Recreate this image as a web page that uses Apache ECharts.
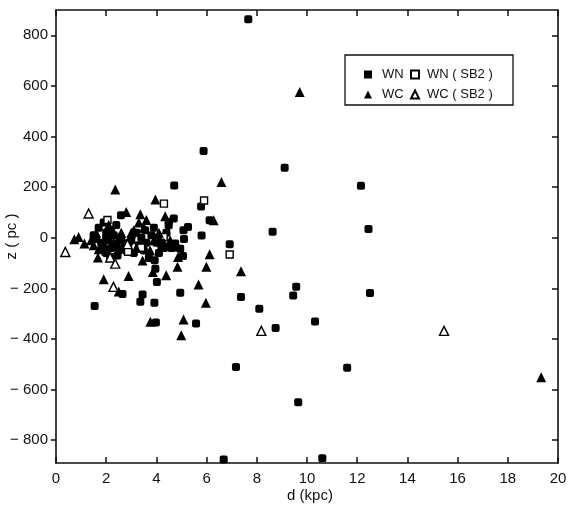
<!DOCTYPE html>
<html>
<head>
<meta charset="utf-8">
<script src="https://cdn.jsdelivr.net/npm/echarts@6/dist/echarts.min.js"></script>
<style>html,body{margin:0;padding:0;background:#fff}#c{width:570px;height:510px}</style>
</head>
<body>
<div id="c"></div>
<script>
// [d (kpc), z (pc)]
const wn = [
  [7.66,863],[9.11,277],[12.15,206],[8.63,24],[12.45,35],[9.57,-194],[9.45,-228],[12.51,-218],
  [8.10,-280],[8.75,-357],[10.32,-331],[11.6,-514],[9.65,-650],[10.61,-871],[6.68,-876],[7.17,-511],
  [5.88,343],[4.71,207],[5.78,124],[4.69,76],[4.49,49],[6.12,69],[5.08,30],[5.26,43],[5.80,9],
  [4.75,-23],[6.92,-26],[5.06,-72],[4.95,-217],[7.37,-234],[5.58,-339],[4.02,-175],[3.45,-224],
  [3.36,-253],[3.92,-257],[1.54,-270],[3.98,-335],[2.65,-222],[2.59,89],[3.93,-89],[3.96,-122],
  [4.95,-43],[4.49,62],
  [1.7,40],[1.9,60],[2.0,20],[2.1,-10],[1.8,-20],[2.2,-40],[2.4,-30],[1.6,-5],[2.0,-60],[2.3,10],
  [2.5,-50],[2.6,-10],[1.9,-40],[2.2,30],[2.4,50],[1.5,10],[2.7,-40],[2.0,0],[2.15,-75],[2.45,-70],
  [3.2,20],[3.4,0],[3.6,-20],[3.8,10],[3.5,-50],[3.3,-30],[4.0,-20],[4.1,-60],[3.7,-80],[3.9,40],
  [4.2,-40],[3.1,-60],[3.55,30],[3.0,-10],[4.05,0],[2.8,-50],[2.9,-20],[4.4,20],[4.6,-40],[5.1,-5],
  [4.3,-40]
];
const wc = [
  [9.71,576],[19.33,-551],[6.59,220],[4.35,85],[6.28,69],[6.12,-65],[4.84,-115],[5.99,-115],
  [4.39,-148],[7.37,-132],[5.68,-185],[5.97,-257],[5.08,-323],[4.99,-385],[1.90,-164],[2.89,-151],
  [3.86,-135],[2.5,-212],[3.76,-332],[2.36,191],[0.73,-6],[0.90,3],[1.13,-23],[1.67,-78],
  [3.96,151],[2.80,102],[3.36,93],[4.86,-76],
  [1.4,-10],[1.6,20],[2.1,50],[1.9,-25],[2.3,-20],[2.6,20],[1.7,-45],[2.5,0],[2.0,-50],[1.5,-30],
  [3.3,60],[3.5,40],[3.2,-40],[3.75,-50],[3.6,70],[3.9,-10],[4.3,-20],[3.45,-90],[3.1,30],[4.1,20],
  [3.0,20],[4.55,-10],[4.85,-35],[4.2,-15]
];
const wnSb2 = [[4.30,135],[5.90,147],[4.29,3],[6.92,-66],[2.87,-55],[3.39,-39],[2.05,70]];
const wcSb2 = [[1.30,96],[0.37,-56],[2.16,-78],[2.36,-102],[2.29,-194],[2.85,-25],[8.18,-368],[15.46,-368]];
const yTicks = [-800,-600,-400,-200,0,200,400,600,800];
const seriesNames = ['WN','WN ( SB2 )','WC','WC ( SB2 )'];

const FONT = 'Liberation Sans';
const chart = echarts.init(document.getElementById('c'), null, {renderer:'canvas'});
const axisLine = {show:true, onZero:false, lineStyle:{color:'#111', width:1.6}};
const yFmt = v => v < 0 ? '− ' + Math.abs(v) : String(v);
chart.setOption({
  backgroundColor:'#fff',
  animation:false,
  grid:{left:56, right:12, top:10, bottom:47, containLabel:false, outerBoundsMode:'none'},
  xAxis:[
    {type:'value', min:0, max:20, interval:2, position:'bottom',
     name:'d (kpc)', nameLocation:'middle', nameGap:25, nameMoveOverlap:false,
     nameTextStyle:{fontFamily:FONT, fontSize:15, color:'#111', verticalAlign:'top', padding:[0,0,0,6]},
     axisLine, axisTick:{inside:true, length:6, lineStyle:{color:'#111', width:1.5}},
     axisLabel:{fontFamily:FONT, fontSize:15, color:'#111', margin:8},
     splitLine:{show:false}},
    {type:'value', min:0, max:20, interval:2, position:'top',
     axisLine, axisTick:{inside:true, length:6, lineStyle:{color:'#111', width:1.5}},
     axisLabel:{show:false}, splitLine:{show:false}}
  ],
  yAxis:[
    {type:'value', min:-890, max:900, position:'left',
     name:'z ( pc )', nameLocation:'middle', nameRotate:90, nameGap:44, nameMoveOverlap:false,
     nameTextStyle:{fontFamily:FONT, fontSize:15, color:'#111', verticalAlign:'middle'},
     axisLine, axisTick:{customValues:yTicks, length:5, lineStyle:{color:'#111', width:1.5}},
     axisLabel:{customValues:yTicks, formatter:yFmt, fontFamily:FONT, fontSize:15, color:'#111', margin:8},
     splitLine:{show:false}},
    {type:'value', min:-890, max:900, position:'right',
     axisLine, axisTick:{customValues:yTicks, inside:true, length:6, lineStyle:{color:'#111', width:1.5}},
     axisLabel:{show:false}, splitLine:{show:false}}
  ],
  legend:[
    {orient:'vertical', left:359, top:63, itemWidth:8, itemHeight:8, itemGap:7,
     data:[{name:'WN', icon:'rect'},{name:'WC', icon:'triangle'}],
     textStyle:{fontFamily:FONT, fontSize:13, color:'#111', padding:[0,0,0,5]}},
    {orient:'vertical', left:405, top:63, itemWidth:8, itemHeight:8, itemGap:7,
     data:[{name:'WN ( SB2 )', icon:'rect'},{name:'WC ( SB2 )', icon:'triangle'}],
     textStyle:{fontFamily:FONT, fontSize:13, color:'#111', padding:[0,0,0,3]}}
  ],
  graphic:[{type:'rect', shape:{x:345, y:55, width:168, height:50},
            style:{fill:'none', stroke:'#111', lineWidth:1.3}, z:10}],
  series:[
    {name:seriesNames[0], type:'scatter', data:wn, symbol:'roundRect', symbolSize:8,
     itemStyle:{color:'#000', opacity:1}},
    {name:seriesNames[1], type:'scatter', data:wnSb2, symbol:'rect', symbolSize:7,
     itemStyle:{color:'#fff', borderColor:'#000', borderWidth:1.4, opacity:1}},
    {name:seriesNames[2], type:'scatter', data:wc, symbol:'triangle', symbolSize:10,
     itemStyle:{color:'#000', opacity:1}},
    {name:seriesNames[3], type:'scatter', data:wcSb2, symbol:'triangle', symbolSize:9,
     itemStyle:{color:'#fff', borderColor:'#000', borderWidth:1.4, opacity:1}}
  ]
});
</script>
</body>
</html>
